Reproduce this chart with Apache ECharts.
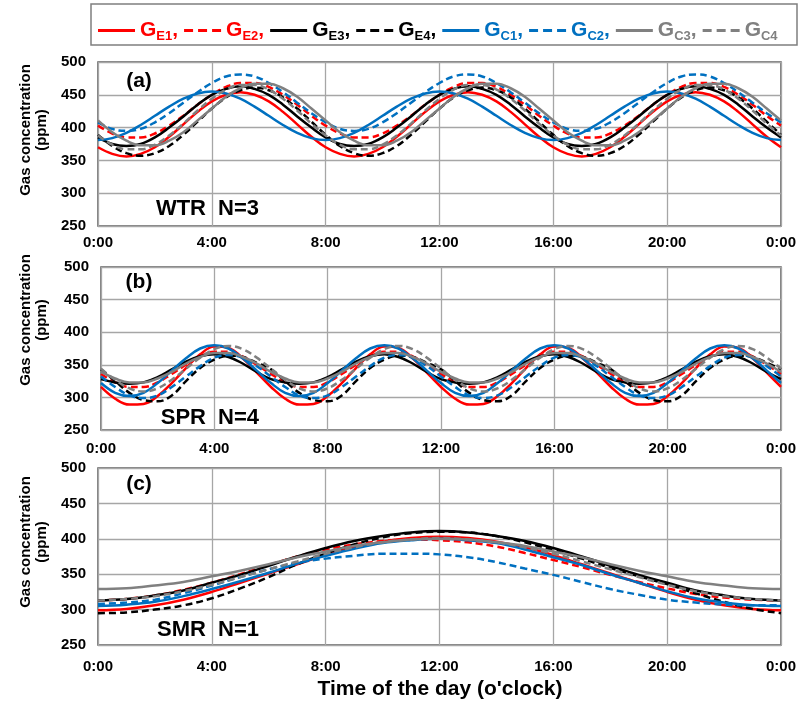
<!DOCTYPE html>
<html>
<head>
<meta charset="utf-8">
<script src="https://cdn.jsdelivr.net/npm/echarts@6/dist/echarts.min.js"></script>
<style>
html,body{margin:0;padding:0;background:#fff;}
#chart{width:799px;height:701px;}
</style>
</head>
<body>
<div id="chart"></div>
<script>
// ---- Data ----
const seriesNames = ['GE1','GE2','GE3','GE4','GC1','GC2','GC3','GC4'];
const xTicks = ['0:00','4:00','8:00','12:00','16:00','20:00','0:00'];
const panelLabels = ['(a)','(b)','(c)'];
const seasonLabels = ['WTR','SPR','SMR'];
const nLabels = ['N=3','N=4','N=1'];

const tHalf = [0,0.5,1,1.5,2,2.5,3,3.5,4,4.5,5,5.5,6,6.5,7,7.5,8,8.5,9,9.5,10,10.5,11,11.5,12,12.5,13,13.5,14,14.5,15,15.5,16,16.5,17,17.5,18,18.5,19,19.5,20,20.5,21,21.5,22,22.5,23,23.5,24];
const tHour = [0,1,2,3,4,5,6,7,8,9,10,11,12,13,14,15,16,17,18,19,20,21,22,23,24];

// Panel (a) WTR, half-hour readings
const aGE1 = [370,360,356,360,370,386,405,424,440,450,454,450,440,424,405,386, 370,360,356,360,370,386,405,424,440,450,454,450,440,424,405,386, 370,360,356,360,370,386,405,424,440,450,454,450,440,424,405,386, 370];
const aGE2 = [403,391,385,385,391,403,418,435,450,462,468,468,462,450,435,418, 403,391,385,385,391,403,418,435,450,462,468,468,462,450,435,418, 403,391,385,385,391,403,418,435,450,462,468,468,462,450,435,418, 403];
const aGE3 = [385,375,372,375,385,400,417,435,450,459,463,459,450,435,417,400, 385,375,372,375,385,400,417,435,450,459,463,459,450,435,417,400, 385,375,372,375,385,400,417,435,450,459,463,459,450,435,417,400, 385];
const aGE4 = [389,372,361,357,361,372,389,409,429,446,457,461,457,446,429,409, 389,372,361,357,361,372,389,409,429,446,457,461,457,446,429,409, 389,372,361,357,361,372,389,409,429,446,457,461,457,446,429,409, 389];
const aGC1 = [381,384,392,404,418,432,444,452,455,452,444,432,418,404,392,384, 381,384,392,404,418,432,444,452,455,452,444,432,418,404,392,384, 381,384,392,404,418,432,444,452,455,452,444,432,418,404,392,384, 381];
const aGC2 = [408,398,395,398,408,422,438,454,468,478,481,478,468,454,438,422, 408,398,395,398,408,422,438,454,468,478,481,478,468,454,438,422, 408,398,395,398,408,422,438,454,468,478,481,478,468,454,438,422, 408];
const aGC3 = [411,393,380,373,373,380,393,411,429,447,460,467,467,460,447,429, 411,393,380,373,373,380,393,411,429,447,460,467,467,460,447,429, 411,393,380,373,373,380,393,411,429,447,460,467,467,460,447,429, 411];
const aGC4 = [388,374,367,367,374,388,406,426,444,458,465,465,458,444,426,406, 388,374,367,367,374,388,406,426,444,458,465,465,458,444,426,406, 388,374,367,367,374,388,406,426,444,458,465,465,458,444,426,406, 388];

// Panel (b) SPR, half-hour readings
const bGE1 = [316,298,289,290,302,322,345,366,378,376,360,338, 316,298,289,290,302,322,345,366,378,376,360,338, 316,298,289,290,302,322,345,366,378,376,360,338, 316,298,289,290,302,322,345,366,378,376,360,338, 316];
const bGE2 = [336,323,316,316,323,336,350,363,370,370,363,350, 336,323,316,316,323,336,350,363,370,370,363,350, 336,323,316,316,323,336,350,363,370,370,363,350, 336,323,316,316,323,336,350,363,370,370,363,350, 336];
const bGE3 = [328,323,321,323,331,343,355,363,366,362,352,339, 328,323,321,323,331,343,355,363,366,362,352,339, 328,323,321,323,331,343,355,363,366,362,352,339, 328,323,321,323,331,343,355,363,366,362,352,339, 328];
const bGE4 = [343,325,307,296,294,303,325,345,358,364,362,353, 343,325,307,296,294,303,325,345,358,364,362,353, 343,325,307,296,294,303,325,345,358,364,362,353, 343,325,307,296,294,303,325,345,358,364,362,353, 343];
const bGC1 = [322,307,302,307,322,341,360,375,380,375,360,341, 322,307,302,307,322,341,360,375,380,375,360,341, 322,307,302,307,322,341,360,375,380,375,360,341, 322,307,302,307,322,341,360,375,380,375,360,341, 322];
const bGC2 = [332,316,303,299,303,316,332,348,361,365,361,348, 332,316,303,299,303,316,332,348,361,365,361,348, 332,316,303,299,303,316,332,348,361,365,361,348, 332,316,303,299,303,316,332,348,361,365,361,348, 332];
const bGC3 = [339,329,323,323,329,339,352,362,368,368,362,352, 339,329,323,323,329,339,352,362,368,368,362,352, 339,329,323,323,329,339,352,362,368,368,362,352, 339,329,323,323,329,339,352,362,368,368,362,352, 339];
const bGC4 = [344,327,314,309,314,327,344,361,374,379,374,361, 344,327,314,309,314,327,344,361,374,379,374,361, 344,327,314,309,314,327,344,361,374,379,374,361, 344,327,314,309,314,327,344,361,374,379,374,361, 344];

// Panel (c) SMR, hourly readings
const cGE1 = [299,301,306,314,325,338,351,364,377,388,396,401,403,401,396,388,377,364,351,338,325,314,306,301,299];
const cGE2 = [313,315,320,328,338,350,363,375,385,392,397,399,398,395,389,380,370,360,349,339,330,322,317,314,313];
const cGE3 = [313,315,320,327,338,349,362,375,387,397,404,409,411,409,404,397,387,375,362,349,338,327,320,315,313];
const cGE4 = [295,296,300,306,316,330,346,364,379,392,402,408,410,409,404,395,384,372,359,347,336,323,311,301,295];
const cGC1 = [305,307,311,319,329,340,352,365,376,386,394,398,400,398,394,385,374,363,350,338,326,316,310,306,305];
const cGC2 = [308,310,314,323,334,346,357,366,372,376,379,379,378,374,367,358,349,339,329,321,314,310,307,306,306];
const cGC3 = [329,330,334,339,347,355,364,374,382,390,395,399,400,399,395,390,382,374,364,355,347,339,334,330,329];
const cGC4 = [313,315,319,326,335,346,357,368,379,388,395,399,401,399,395,388,379,368,357,346,335,326,319,315,313];

// ---- Build ----
const FONT = '"Liberation Sans", Arial, sans-serif';
const RED = '#FF0000', BLK = '#000000', BLU = '#0070C0', GRY = '#808080';
const ICON_SOLID = 'path://M0,0h37v3h-37z';
const ICON_DASH = 'path://M0,0h9v3h-9z M14,0h9v3h-9z M28,0h9v3h-9z';
const styleOf = {
  GE1:{c:RED,d:'solid',k:'r'}, GE2:{c:RED,d:[7,4],k:'r'},
  GE3:{c:BLK,d:'solid',k:'k'}, GE4:{c:BLK,d:[7,4],k:'k'},
  GC1:{c:BLU,d:'solid',k:'b'}, GC2:{c:BLU,d:[7,4],k:'b'},
  GC3:{c:GRY,d:'solid',k:'g'}, GC4:{c:GRY,d:[7,4],k:'g'}
};
const panels = [
  {t:tHalf, v:[aGE1,aGE2,aGE3,aGE4,aGC1,aGC2,aGC3,aGC4]},
  {t:tHalf, v:[bGE1,bGE2,bGE3,bGE4,bGC1,bGC2,bGC3,bGC4]},
  {t:tHour, v:[cGE1,cGE2,cGE3,cGE4,cGC1,cGC2,cGC3,cGC4]}
];
const grids = [
  {left:98, right:17, top:62, height:164},
  {left:101, right:15, top:267, height:163},
  {left:98, right:11, top:468, height:177}
];
const xMargins = [9,11,14];

const series = [];
panels.forEach((p, pi) => {
  seriesNames.forEach((n, si) => {
    const s = styleOf[n];
    series.push({
      name:n, type:'line', xAxisIndex:pi, yAxisIndex:pi,
      data:p.t.map((t,i)=>[t,p.v[si][i]]),
      smooth:0.4, symbol:'none', showSymbol:false,
      lineStyle:{color:s.c, width:2.5, type:s.d},
      itemStyle:{color:s.c}
    });
  });
});

const rich = {};
[['r',RED],['k',BLK],['b',BLU],['g',GRY]].forEach(([k,c])=>{
  rich[k+'G'] = {color:c, fontSize:21, fontWeight:'bold', fontFamily:FONT, lineHeight:24};
  rich[k+'S'] = {color:c, fontSize:13, fontWeight:'bold', fontFamily:FONT, lineHeight:13, verticalAlign:'bottom'};
});

const graphic = [
  {type:'rect', shape:{x:91, y:4, width:706, height:41}, style:{fill:'none', stroke:'#7f7f7f', lineWidth:1.5}, z:-1}
];
const yNameCenters = [130, 320, 542];
yNameCenters.forEach(cy => {
  graphic.push({type:'text', x:34, y:cy, rotation:Math.PI/2,
    style:{text:'Gas concentration\n(ppm)', font:'bold 15px '+FONT, fill:'#000', align:'center', verticalAlign:'middle', lineHeight:16}});
});
const labelY = [81, 282, 484];
const seasonY = [209, 418, 630];
panelLabels.forEach((l,i)=>{
  graphic.push({type:'text', x:139, y:labelY[i], style:{text:l, font:'bold 21px '+FONT, fill:'#000', align:'center', verticalAlign:'middle'}});
  graphic.push({type:'text', x:206, y:seasonY[i], style:{text:seasonLabels[i], font:'bold 22px '+FONT, fill:'#000', align:'right', verticalAlign:'middle'}});
  graphic.push({type:'text', x:218, y:seasonY[i], style:{text:nLabels[i], font:'bold 22px '+FONT, fill:'#000', align:'left', verticalAlign:'middle'}});
});
graphic.push({type:'text', x:440, y:689, style:{text:"Time of the day (o'clock)", font:'bold 21px '+FONT, fill:'#000', align:'center', verticalAlign:'middle'}});

const option = {
  animation:false,
  backgroundColor:'#fff',
  textStyle:{fontFamily:FONT},
  legend:{
    data:seriesNames.map(n=>({name:n, icon: styleOf[n].d === 'solid' ? ICON_SOLID : ICON_DASH})),
    left:98, top:20, padding:0, width:700, itemWidth:37, itemHeight:14, itemGap:6,
    formatter:function(name){
      const k = styleOf[name].k;
      const comma = name === 'GC4' ? '' : ',';
      return '{'+k+'G|G}{'+k+'S|'+name.slice(1)+'}' + (comma ? '{'+k+'G|,}' : '');
    },
    textStyle:{rich:rich}
  },
  grid: grids.map(g => Object.assign({show:true, borderColor:'#595959', borderWidth:1.5, backgroundColor:'transparent'}, g)),
  xAxis: grids.map((g,i)=>({
    gridIndex:i, type:'value', min:0, max:24, interval:4,
    axisLabel:{formatter:v=>xTicks[Math.round(v/4)], fontWeight:'bold', fontSize:15, color:'#000', fontFamily:FONT, margin:xMargins[i], showMinLabel:true, showMaxLabel:true},
    axisTick:{show:false}, axisLine:{show:false},
    splitLine:{show:true, lineStyle:{color:'#a6a6a6', width:1.3}}
  })),
  yAxis: grids.map((g,i)=>({
    gridIndex:i, type:'value', min:250, max:500, interval:50,
    axisLabel:{fontWeight:'bold', fontSize:15, color:'#000', fontFamily:FONT, margin:12},
    axisTick:{show:false}, axisLine:{show:false},
    splitLine:{show:true, lineStyle:{color:'#a6a6a6', width:1.3}}
  })),
  series:series,
  graphic:graphic
};
const chart = echarts.init(document.getElementById('chart'), null, {renderer:'canvas'});
chart.setOption(option);
</script>
</body>
</html>
